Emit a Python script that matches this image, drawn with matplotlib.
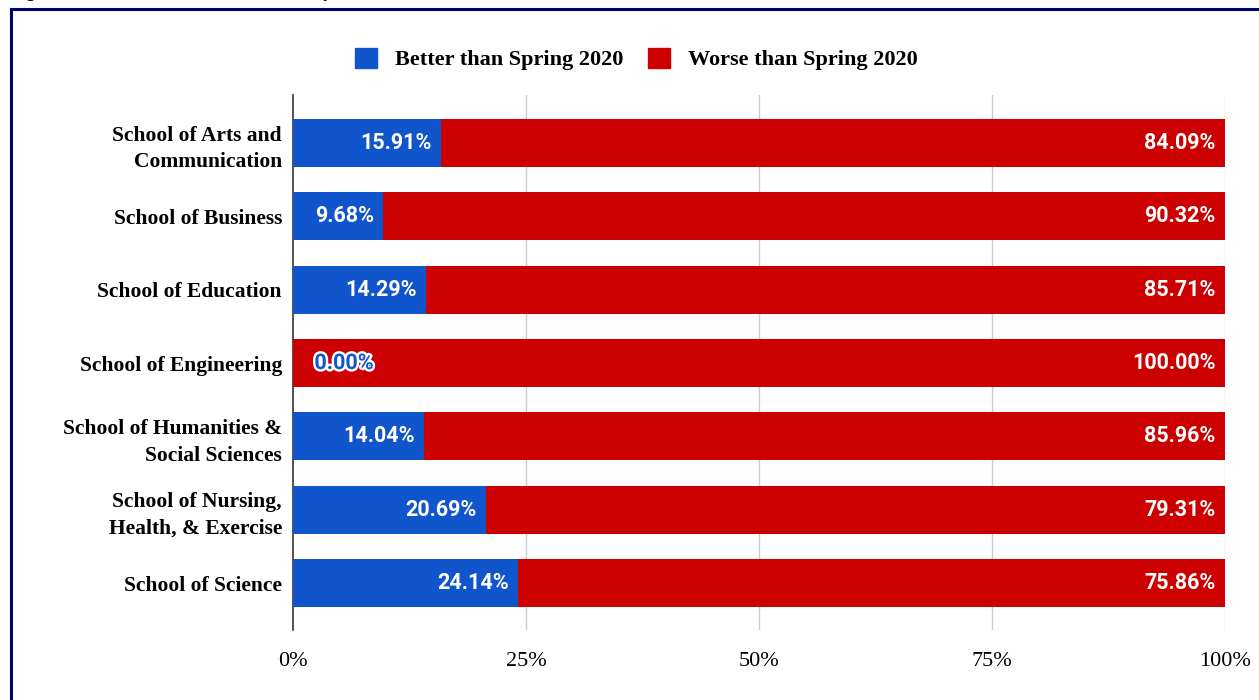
import matplotlib
matplotlib.use("Agg")
import matplotlib.pyplot as plt
from matplotlib.patches import Rectangle
import matplotlib.patheffects as pe

schools = ["School of Arts and\nCommunication", "School of Business", "School of Education",
           "School of Engineering", "School of Humanities &\nSocial Sciences",
           "School of Nursing,\nHealth, & Exercise", "School of Science"]
better = [15.91, 9.68, 14.29, 0.00, 14.04, 20.69, 24.14]
worse = [84.09, 90.32, 85.71, 100.00, 85.96, 79.31, 75.86]
xticks = [0, 25, 50, 75, 100]
xticklabels = ["0%", "25%", "50%", "75%", "100%"]
legend_labels = ["Better than Spring 2020", "Worse than Spring 2020"]
title = "Figure 5. Fall 2020 Semester Outcomes by School"

BLUE = "#1155CC"
RED = "#CC0000"
W, H = 1259, 700

fig = plt.figure(figsize=(W / 100, H / 100), dpi=100)
ax = fig.add_axes([293 / W, 1 - 630 / H, (1225 - 293) / W, (630 - 95) / H])

ys = list(range(len(schools)))
ax.barh(ys, better, height=0.655, color=BLUE, zorder=3)
ax.barh(ys, worse, left=better, height=0.655, color=RED, zorder=3)

ax.set_ylim(len(schools) - 1 + 0.64, -0.655)
ax.set_xlim(0, 100)

lab_kw = dict(fontsize=15.5, fontweight="bold", family="Roboto", zorder=4, va="center")
for y, b, w in zip(ys, better, worse):
    if b > 0:
        ax.text(b - 1.0, y, f"{b:.2f}%", ha="right", color="white", **lab_kw)
    else:
        ax.text(2.3, y, f"{b:.2f}%", ha="left", color=BLUE,
                path_effects=[pe.withStroke(linewidth=3.5, foreground="white")], **lab_kw)
    ax.text(b + w - 1.0, y, f"{w:.2f}%", ha="right", color="white", **lab_kw)

ax.set_yticks(ys)
ax.set_yticklabels(schools, family="Liberation Serif", fontweight="bold", fontsize=15.5,
                   linespacing=1.45)
ax.tick_params(axis="y", length=0, pad=8)
ax.set_xticks(xticks)
ax.set_xticklabels(xticklabels, family="Liberation Serif", fontsize=16)
ax.tick_params(axis="x", length=0, pad=16)

for x in xticks[1:]:
    ax.axvline(x, color="#cccccc", lw=1, zorder=1)
for s in ["top", "right", "bottom"]:
    ax.spines[s].set_visible(False)
ax.spines["left"].set_color("#333333")
ax.spines["left"].set_linewidth(1.2)

handles = [Rectangle((0, 0), 1, 1, color=BLUE), Rectangle((0, 0), 1, 1, color=RED)]
fig.legend(handles, legend_labels, loc="center", bbox_to_anchor=(636 / W, 1 - 59 / H),
           ncol=2, frameon=False, handlelength=1.0, handleheight=1.0,
           handletextpad=0.8, columnspacing=1.1,
           prop={"family": "Liberation Serif", "weight": "bold", "size": 16})

# outer border (partially visible frame)
fig.patches.append(Rectangle((11 / W, -0.1), 1.2, 1 - 9 / H + 0.1, transform=fig.transFigure,
                             fill=False, edgecolor="#000066", lw=2.2, figure=fig))

fig.text(10 / W, 1 + 3 / H, title,
         ha="left", va="baseline", fontsize=13, fontweight="bold", family="Liberation Serif")

fig.savefig("out.png", dpi=100)
